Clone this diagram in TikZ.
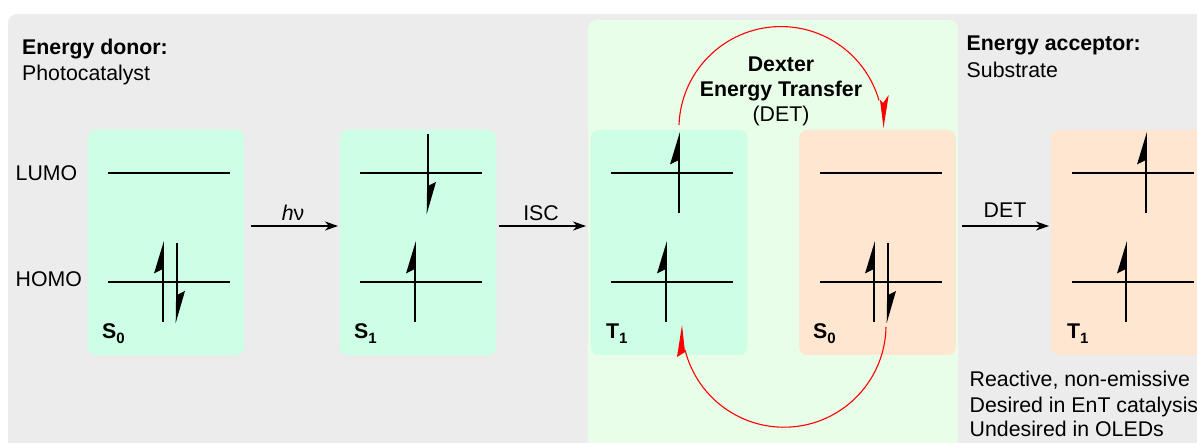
\documentclass[tikz,border=0pt]{standalone}
\usepackage{fontspec}
\setmainfont{Liberation Sans}
\usetikzlibrary{arrows.meta}
\definecolor{bggrey}{HTML}{ECECEC}
\definecolor{panelgreen}{HTML}{E9FEE9}
\definecolor{boxteal}{HTML}{CCFFE6}
\definecolor{boxorange}{HTML}{FFE6D0}
\definecolor{arcred}{HTML}{FF0000}
\newcommand{\lvlline}[2]{\draw[levelline] (#1-58,#2) -- (#1+64,#2);}
\newcommand{\spinup}[2]{%
  \draw[levelline] (#1,#2-20) -- (#1,#2+40);
  \fill[black] (#1+0.9,#2-41) -- (#1+0.9,#2-15) -- (#1-0.2,#2-13) -- (#1-9,#2-8.5) -- cycle;}
\newcommand{\spindown}[2]{%
  \draw[levelline] (#1,#2-39) -- (#1,#2+20);
  \fill[black] (#1-1.3,#2+41) -- (#1-0.9,#2+12) -- (#1,#2+13) -- (#1+8,#2+9) -- cycle;}
\tikzset{
  x=1pt,y=-1pt,
  levelline/.style={line width=1.8pt,black},
  panel/.style={draw=none,rounded corners=8pt,inner sep=0pt,minimum height=225pt,minimum width=156.5pt},
  txt/.style={anchor=base west,inner sep=0pt,font=\fontsize{21.3}{26}\selectfont},
  txtc/.style={anchor=base,inner sep=0pt,font=\fontsize{21.3}{26}\selectfont},
  statelabel/.style={anchor=base west,inner sep=0pt,font=\fontsize{21.3}{26}\selectfont\bfseries},
  reaction/.style={line width=1.6pt,black,-{Stealth[length=13pt,width=9pt,inset=4pt]}},
  transfer/.style={line width=1.1pt,arcred},
}
\newcommand{\subdigit}[1]{\raisebox{-4.5pt}{\fontsize{15}{15}\selectfont\bfseries #1}}
\begin{document}
\begin{tikzpicture}
\useasboundingbox (0,0) rectangle (1197,443);
\clip (0,0) rectangle (1197,443);
\fill[bggrey,rounded corners=9pt] (8,14) rectangle (1230,480);
\fill[panelgreen,rounded corners=9pt] (588,20) rectangle (958,480);
% boxes
\node[panel,fill=boxteal] (s0a) at (166,242.5) {};
\node[panel,fill=boxteal] (s1a) at (418,242.5) {};
\node[panel,fill=boxteal] (t1a) at (669,242.5) {};
\node[panel,fill=boxorange] (s0b) at (877.5,242.5) {};
\node[panel,fill=boxorange,minimum width=200pt] (t1b) at (1151,242.5) {};
% levels
\lvlline{166}{173}\lvlline{166}{282}
\lvlline{418}{173}\lvlline{418}{282}
\lvlline{669}{173}\lvlline{669}{282}
\lvlline{878}{173}\lvlline{878}{282}
\lvlline{1130}{173}\lvlline{1130}{282}
% electrons
\spinup{163}{282}\spindown{177}{282}
\spindown{428}{173}\spinup{415}{282}
\spinup{679}{173}\spinup{666}{282}
\spinup{874}{282}\spindown{888}{282}
\spinup{1146}{173}\spinup{1126}{282}
% state labels
\node[statelabel] (l1) at (102,339) {S\subdigit{0}};
\node[statelabel] (l2) at (354,339) {S\subdigit{1}};
\node[statelabel] (l3) at (606,339) {T\subdigit{1}};
\node[statelabel] (l4) at (813,339) {S\subdigit{0}};
\node[statelabel] (l5) at (1067,339) {T\subdigit{1}};
% reactions
\coordinate (r1s) at (251,226); \coordinate (r1e) at (338,226);
\coordinate (r2s) at (499,226); \coordinate (r2e) at (586,226);
\coordinate (r3s) at (962,226); \coordinate (r3e) at (1049,226);
\draw[reaction] (r1s) -- (r1e);
\draw[reaction] (r2s) -- (r2e);
\draw[reaction] (r3s) -- (r3e);
\node[txtc] (hv) at (293,221) {\textit{h}ν};
\node[txtc] (isc) at (541,221) {ISC};
\node[txtc] (det) at (1005,218) {DET};
% red arcs
\coordinate (a1s) at (679,125);
\draw[transfer] (a1s) arc[start angle=178,end angle=16,radius=102pt];
\fill[arcred] (883.5,128) -- (880,100) -- (883,103) -- (888.7,95) -- cycle;
\coordinate (a2s) at (886,327);
\draw[transfer] (a2s) arc[start angle=-1,end angle=-166,radius=102pt];
\fill[arcred] (682,325) -- (677,357) -- (685,352) -- cycle;
% texts
\node[txt] (t1) at (15.5,181) {LUMO};
\node[txt] (t2) at (15.5,287) {HOMO};
\node[txt] (t3) at (22,55) {\bfseries Energy donor:};
\node[txt] (t4) at (22,81) {Photocatalyst};
\node[txt] (t5) at (966.5,51) {\bfseries Energy acceptor:};
\node[txt] (t6) at (966.5,77.5) {Substrate};
\node[txtc] (t7) at (781,72) {\bfseries Dexter};
\node[txtc] (t8) at (781,97) {\bfseries Energy Transfer};
\node[txtc] (t9) at (781,122) {(DET)};
\node[txt] (t10) at (969.5,387) {Reactive, non-emissive};
\node[txt] (t11) at (969.5,412.5) {Desired in EnT catalysis};
\node[txt] (t12) at (969.5,437) {Undesired in OLEDs};
\end{tikzpicture}
\end{document}
